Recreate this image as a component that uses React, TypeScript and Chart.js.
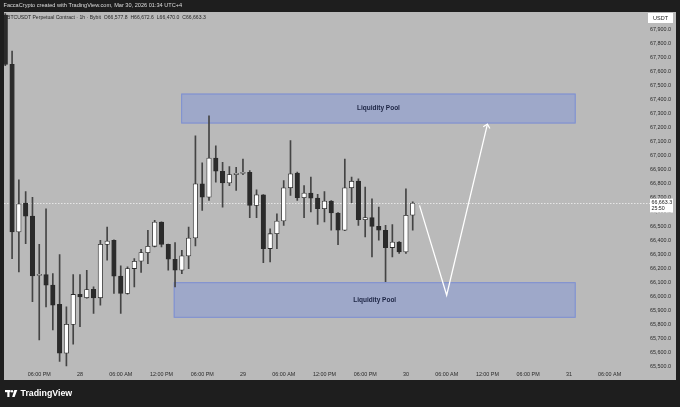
import React, { useEffect, useRef } from "react";
import { Chart, registerables } from "chart.js";

Chart.register(...registerables);

// ---- data (hourly candles, hours relative to Mar 28 00:00) ----
const hours = [
  -11, -10, -9, -8, -7, -6, -5, -4, -3, -2, -1, 0, 1, 2, 3, 4, 5, 6, 7, 8, 9, 10, 11, 12, 13, 14, 15, 16, 17, 18, 19,
  20, 21, 22, 23, 24, 25, 26, 27, 28, 29, 30, 31, 32, 33, 34, 35, 36, 37, 38, 39, 40, 41, 42, 43, 44, 45, 46, 47, 48, 49,
];
const opens = [
  68000, 67650, 66458, 66663, 66571, 66150, 66155, 66080, 65943, 65596, 65801, 66014, 65990, 66051, 65990, 66370, 66399,
  66144, 66021, 66198, 66250, 66311, 66356, 66528, 66370, 66264, 66186, 66288, 66415, 66800, 66705, 66984, 66890, 66807,
  66866, 66875, 66882, 66646, 66722, 66340, 66446, 66536, 66772, 66876, 66701, 66734, 66699, 66623, 66678, 66593, 66470,
  66772, 66819, 66545, 66560, 66498, 66470, 66347, 66387, 66316, 66577.8,
];
const highs = [
  68060, 67744, 66828, 66746, 66705, 66370, 66623, 66163, 66297, 65926, 66155, 66155, 66186, 66068, 66399, 66493, 66402,
  66217, 66210, 66269, 66335, 66469, 66540, 66530, 66372, 66382, 66328, 66493, 67142, 66949, 67284, 67071, 66953, 66923,
  66918, 66977, 66894, 66757, 66724, 66481, 66587, 66824, 67107, 66883, 66788, 66848, 66725, 66746, 66682, 66595, 66977,
  66848, 66836, 66777, 66694, 66635, 66505, 66510, 66389, 66765, 66672.6,
];
const lows = [
  67640, 66269, 66174, 66375, 65962, 65690, 65926, 65761, 65537, 65506, 65660, 65785, 65988, 65879, 65938, 66257, 66021,
  65879, 66016, 66068, 66170, 66233, 66351, 66351, 66186, 66068, 66162, 66198, 66358, 66611, 66682, 66812, 66635, 66788,
  66753, 66866, 66559, 66559, 66240, 66245, 66340, 66505, 66718, 66682, 66560, 66600, 66512, 66529, 66470, 66368, 66468,
  66666, 66505, 66423, 66281, 66399, 66104, 66281, 66305, 66305, 66470.0,
];
const closes = [
  67650, 66458, 66658, 66571, 66146, 66152, 66080, 65938, 65596, 65801, 66014, 65997, 66049, 65990, 66370, 66394, 66144,
  66021, 66198, 66250, 66311, 66356, 66528, 66370, 66264, 66186, 66288, 66415, 66800, 66705, 66984, 66890, 66807, 66866,
  66875, 66878, 66646, 66722, 66340, 66446, 66535, 66772, 66871, 66701, 66734, 66699, 66623, 66678, 66593, 66470, 66772,
  66819, 66545, 66560, 66498, 66470, 66347, 66387, 66316, 66576, 66663.3,
];

const xTickHours = [-6, 0, 6, 12, 18, 24, 30, 36, 42, 48, 54, 60, 66, 72, 78];
const xTickLabels = [
  "06:00 PM", "28", "06:00 AM", "12:00 PM", "06:00 PM", "29", "06:00 AM", "12:00 PM", "06:00 PM", "30", "06:00 AM",
  "12:00 PM", "06:00 PM", "31", "06:00 AM",
];
const yTickValues = [
  65500, 65600, 65700, 65800, 65900, 66000, 66100, 66200, 66300, 66400, 66500, 66600, 66700, 66800, 66900, 67000, 67100,
  67200, 67300, 67400, 67500, 67600, 67700, 67800, 67900,
];

const upperPoolHours = [14.9, 73.0];
const upperPoolPrices = [67229, 67442];
const lowerPoolHours = [13.8, 73.0];
const lowerPoolPrices = [65848, 66101];
const poolLabel = "Liquidity Pool";

const arrowHours = [50, 54, 60];
const arrowPrices = [66647, 66009, 67225];

const lastPrice = 66663.3;
const countdown = "25:50";
const headerText = "FaccaCrypto created with TradingView.com, Mar 30, 2026 01:34 UTC+4";
const legendText = "BTCUSDT Perpetual Contract \u00b7 1h \u00b7 Bybit  O66,577.8  H66,672.6  L66,470.0  C66,663.3";
const currencyLabel = "USDT";
const brandText = "TradingView";

const FONT = "'Liberation Sans', Arial, sans-serif";
const fmt = (v: number) => v.toLocaleString("en-US", { minimumFractionDigits: 1, maximumFractionDigits: 1 });

const tvPlugin = {
  id: "tvDecor",
  beforeDraw(chart: any) {
    const { ctx, width, height } = chart;
    ctx.save();
    ctx.fillStyle = "#1e1e1e";
    ctx.fillRect(0, 0, width, height);
    ctx.fillStyle = "#bababa";
    ctx.fillRect(4, 12, 672, 368);
    ctx.restore();
  },
  beforeDatasetsDraw(chart: any) {
    const { ctx, scales, chartArea } = chart;
    const xs = scales.x;
    const ys = scales.y;
    ctx.save();
    const drawPool = (hx: number[], py: number[]) => {
      const x1 = xs.getPixelForValue(hx[0]);
      const x2 = xs.getPixelForValue(hx[1]);
      const y1 = ys.getPixelForValue(py[1]);
      const y2 = ys.getPixelForValue(py[0]);
      ctx.fillStyle = "#9ea8c9";
      ctx.fillRect(x1, y1, x2 - x1, y2 - y1);
      ctx.strokeStyle = "#7d8fd2";
      ctx.lineWidth = 1;
      ctx.strokeRect(x1 + 0.5, y1 + 0.5, x2 - x1 - 1, y2 - y1 - 1);
      ctx.fillStyle = "#1d2544";
      ctx.font = `bold 6.5px ${FONT}`;
      ctx.textAlign = "center";
      ctx.textBaseline = "middle";
      ctx.fillText(poolLabel, (x1 + x2) / 2, (y1 + y2) / 2);
    };
    drawPool(upperPoolHours, upperPoolPrices);
    drawPool(lowerPoolHours, lowerPoolPrices);

    // current price dotted line
    const yp = Math.round(ys.getPixelForValue(lastPrice)) + 0.5;
    ctx.strokeStyle = "rgba(232,232,232,0.95)";
    ctx.setLineDash([1.5, 1.5]);
    ctx.lineWidth = 1;
    ctx.beginPath();
    ctx.moveTo(chartArea.left, yp);
    ctx.lineTo(650, yp);
    ctx.stroke();
    ctx.restore();
  },
  afterDraw(chart: any) {
    const { ctx, scales } = chart;
    const ys = scales.y;
    ctx.save();

    // arrow head
    const meta = chart.getDatasetMeta(2);
    if (meta && meta.data.length >= 3) {
      const p1 = meta.data[1];
      const p2 = meta.data[2];
      const ang = Math.atan2(p2.y - p1.y, p2.x - p1.x);
      const len = 5;
      ctx.strokeStyle = "#ffffff";
      ctx.lineWidth = 1.2;
      ctx.beginPath();
      ctx.moveTo(p2.x + len * Math.cos(ang + Math.PI - 0.75), p2.y + len * Math.sin(ang + Math.PI - 0.75));
      ctx.lineTo(p2.x, p2.y);
      ctx.lineTo(p2.x + len * Math.cos(ang + Math.PI + 0.75), p2.y + len * Math.sin(ang + Math.PI + 0.75));
      ctx.stroke();
    }

    // price label
    const yc = ys.getPixelForValue(lastPrice);
    ctx.fillStyle = "#ffffff";
    ctx.fillRect(650, yc - 4.5, 23, 14);
    ctx.fillStyle = "#222222";
    ctx.font = `5.3px ${FONT}`;
    ctx.textAlign = "left";
    ctx.textBaseline = "middle";
    ctx.fillText(fmt(lastPrice), 651.5, yc - 0.5);
    ctx.fillText(countdown, 651.5, yc + 5.5);

    // currency box
    ctx.fillStyle = "#ffffff";
    ctx.fillRect(648, 13, 25, 10);
    ctx.fillStyle = "#222222";
    ctx.font = `5.5px ${FONT}`;
    ctx.textAlign = "center";
    ctx.fillText(currencyLabel, 660.5, 18.3);

    // legend line
    ctx.fillStyle = "#262626";
    ctx.font = `5.1px ${FONT}`;
    ctx.textAlign = "left";
    ctx.fillText(legendText, 7, 17.5);

    // header
    ctx.fillStyle = "#dedede";
    ctx.font = `5.6px ${FONT}`;
    ctx.fillText(headerText, 3.5, 5.5);

    // brand logo
    ctx.fillStyle = "#ffffff";
    ctx.fillRect(5, 390, 5.5, 2.2);
    ctx.fillRect(7.3, 390, 2.2, 7);
    ctx.beginPath();
    ctx.arc(12, 391.2, 1.2, 0, Math.PI * 2);
    ctx.fill();
    ctx.beginPath();
    ctx.moveTo(14.3, 390);
    ctx.lineTo(17.3, 390);
    ctx.lineTo(14.6, 397);
    ctx.lineTo(12.1, 397);
    ctx.closePath();
    ctx.fill();
    ctx.font = `bold 8.8px ${FONT}`;
    ctx.fillText(brandText, 20.5, 394);
    ctx.restore();
  },
};

export default function App() {
  const ref = useRef<HTMLCanvasElement | null>(null);

  useEffect(() => {
    if (!ref.current) return;
    Chart.defaults.font.family = FONT;
    const bodyColors = hours.map((_, i) => (closes[i] >= opens[i] ? "#ffffff" : "#2b2b2b"));
    const chart = new Chart(ref.current, {
      type: "bar",
      data: {
        datasets: [
          {
            type: "bar",
            data: hours.map((h, i) => ({ x: h, y: [opens[i], closes[i]] })) as any,
            backgroundColor: bodyColors,
            borderColor: "#2b2b2b",
            borderWidth: 0.8,
            borderSkipped: false,
            barThickness: 4.5,
            minBarLength: 1,
            grouped: false,
            clip: 0,
            order: 1,
          } as any,
          {
            type: "bar",
            data: hours.map((h, i) => ({ x: h, y: [lows[i], highs[i]] })) as any,
            backgroundColor: "#444444",
            borderWidth: 0,
            barThickness: 1,
            grouped: false,
            clip: 0,
            order: 2,
          } as any,
          {
            type: "line",
            data: arrowHours.map((h, i) => ({ x: h, y: arrowPrices[i] })) as any,
            borderColor: "#ffffff",
            borderWidth: 1.3,
            pointRadius: 0,
            tension: 0,
            fill: false,
            order: 0,
          } as any,
        ],
      },
      options: {
        animation: false,
        responsive: false,
        devicePixelRatio: 1,
        layout: { padding: { left: 4, top: 12, right: 4, bottom: 27 } },
        plugins: { legend: { display: false }, tooltip: { enabled: false } },
        events: [],
        scales: {
          x: {
            type: "linear",
            min: -11.19,
            max: 82.47,
            offset: false,
            grid: { display: false, drawTicks: false },
            border: { display: false },
            afterBuildTicks: (s: any) => {
              s.ticks = xTickHours.map((v) => ({ value: v }));
            },
            afterFit: (s: any) => {
              s.height = 12;
            },
            ticks: {
              autoSkip: false,
              maxRotation: 0,
              padding: 3,
              color: "#2a2a2a",
              font: { size: 5.4 },
              callback: (v: any) => {
                const i = xTickHours.indexOf(Number(v));
                return i >= 0 ? xTickLabels[i] : "";
              },
            },
          },
          y: {
            type: "linear",
            position: "right",
            min: 65491,
            max: 68013,
            grid: { display: false, drawTicks: false },
            border: { display: false },
            afterBuildTicks: (s: any) => {
              s.ticks = yTickValues.map((v) => ({ value: v }));
            },
            afterFit: (s: any) => {
              s.width = 36;
            },
            ticks: {
              padding: 10,
              color: "#2a2a2a",
              font: { size: 5.4 },
              callback: (v: any) => fmt(Number(v)),
            },
          },
        },
      } as any,
      plugins: [tvPlugin],
    });
    return () => chart.destroy();
  }, []);

  return (
    <div style={{ position: "absolute", left: 0, top: 0, width: 680, height: 407, background: "#1e1e1e" }}>
      <canvas ref={ref} width={680} height={407} style={{ display: "block", width: 680, height: 407 }} />
    </div>
  );
}
